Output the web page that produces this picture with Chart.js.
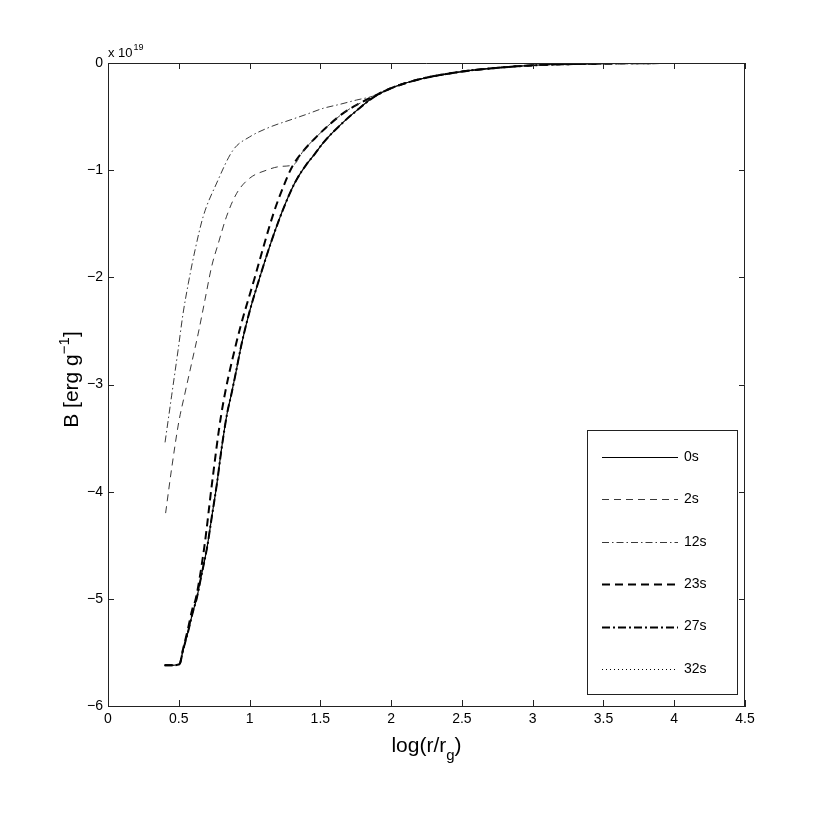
<!DOCTYPE html>
<html>
<head>
<meta charset="utf-8">
<script src="https://cdn.jsdelivr.net/npm/chart.js@4"></script>
<style>
html,body{margin:0;padding:0;background:#fff;}
#wrap{width:830px;height:832px;position:relative;}
</style>
</head>
<body>
<div id="wrap"><canvas id="c" width="830" height="832"></canvas></div>
<script>
// ---------- data ----------
const seriesLabels = ['0s', '2s', '12s', '23s', '27s', '32s'];
const xTickValues = [0, 0.5, 1, 1.5, 2, 2.5, 3, 3.5, 4, 4.5];
const yTickValues = [-6, -5, -4, -3, -2, -1, 0];
const yExponentLabel = '19';

// 0s
const x0 = [0.40,0.45,0.505,0.53,0.567,0.60,0.626,0.66,0.70,0.735,0.77,0.80,0.84,0.87,0.90,0.944,1.00,1.07,1.14,1.215,1.29,1.34,1.40,1.46,1.52,1.64,1.76,1.87,1.99,2.20,2.50,2.75,3.00,3.25,3.50,3.75,4.05];
const b0 = [-5.62,-5.62,-5.61,-5.48,-5.30,-5.12,-5.00,-4.78,-4.52,-4.22,-3.92,-3.62,-3.28,-3.10,-2.91,-2.62,-2.32,-2.01,-1.72,-1.44,-1.20,-1.07,-0.95,-0.85,-0.745,-0.58,-0.44,-0.325,-0.24,-0.152,-0.08,-0.045,-0.022,-0.011,-0.005,-0.002,0];
// 2s
const x2 = [0.407,0.45,0.50,0.544,0.591,0.638,0.685,0.732,0.78,0.838,0.909,1.00,1.12,1.22,1.31,1.38,1.474,1.568,1.66,1.757,1.87,1.99,2.20,2.50,2.75,3.00,3.25,3.50,3.75,4.05];
const b2 = [-4.20,-3.78,-3.35,-3.08,-2.80,-2.52,-2.21,-1.90,-1.68,-1.43,-1.216,-1.076,-1.00,-0.965,-0.95,-0.82,-0.687,-0.57,-0.47,-0.39,-0.325,-0.24,-0.152,-0.08,-0.045,-0.022,-0.011,-0.005,-0.002,0];
// 12s
const x12 = [0.403,0.45,0.495,0.53,0.567,0.615,0.673,0.768,0.885,1.00,1.14,1.286,1.40,1.52,1.64,1.757,1.87,1.99,2.20,2.50,2.75,3.00,3.25,3.50,3.75,4.05];
const b12 = [-3.54,-3.10,-2.68,-2.34,-2.06,-1.745,-1.43,-1.12,-0.81,-0.69,-0.60,-0.532,-0.48,-0.423,-0.385,-0.345,-0.31,-0.24,-0.152,-0.08,-0.045,-0.022,-0.011,-0.005,-0.002,0];
// 23s
const x23 = [0.40,0.45,0.505,0.53,0.565,0.595,0.62,0.68,0.735,0.80,0.905,1.035,1.17,1.24,1.30,1.38,1.474,1.568,1.66,1.757,1.87,1.99,2.20,2.50,2.75,3.00,3.25,3.50,3.75,4.05];
const b23 = [-5.62,-5.62,-5.61,-5.47,-5.28,-5.10,-5.00,-4.52,-3.92,-3.28,-2.62,-2.01,-1.40,-1.15,-0.97,-0.82,-0.687,-0.57,-0.47,-0.39,-0.315,-0.24,-0.152,-0.08,-0.045,-0.022,-0.011,-0.005,-0.002,0];
// 27s (lies on the 0s curve)
const x27 = [0.40,0.45,0.505,0.53,0.567,0.60,0.626,0.66,0.70,0.735,0.77,0.80,0.84,0.87,0.90,0.944,1.00,1.07,1.14,1.215,1.29,1.34,1.40,1.46,1.52,1.64,1.76,1.87,1.99,2.20,2.50,2.75,3.00,3.25,3.50,3.75,4.05];
const b27 = [-5.62,-5.62,-5.61,-5.48,-5.30,-5.12,-5.00,-4.78,-4.52,-4.22,-3.92,-3.62,-3.28,-3.10,-2.91,-2.62,-2.32,-2.01,-1.72,-1.44,-1.20,-1.07,-0.95,-0.85,-0.745,-0.58,-0.44,-0.325,-0.24,-0.152,-0.08,-0.045,-0.022,-0.011,-0.005,-0.002,0];
// 32s (lies on the 0s curve)
const x32 = [0.40,0.45,0.505,0.53,0.567,0.60,0.626,0.66,0.70,0.735,0.77,0.80,0.84,0.87,0.90,0.944,1.00,1.07,1.14,1.215,1.29,1.34,1.40,1.46,1.52,1.64,1.76,1.87,1.99,2.20,2.50,2.75,3.00,3.25,3.50,3.75,4.05];
const b32 = [-5.62,-5.62,-5.61,-5.48,-5.30,-5.12,-5.00,-4.78,-4.52,-4.22,-3.92,-3.62,-3.28,-3.10,-2.91,-2.62,-2.32,-2.01,-1.72,-1.44,-1.20,-1.07,-0.95,-0.85,-0.745,-0.58,-0.44,-0.325,-0.24,-0.152,-0.08,-0.045,-0.022,-0.011,-0.005,-0.002,0];

// ---------- styles ----------
const FONT = '"Liberation Sans", Arial, Helvetica, sans-serif';
const styles = [
  {dash: [], width: 1.2, color: '#000'},
  {dash: [7, 5], width: 0.9, color: '#222'},
  {dash: [7, 3, 1.5, 3], width: 0.9, color: '#222'},
  {dash: [8, 5], width: 2, color: '#000'},
  {dash: [8, 3, 2, 3], width: 2, color: '#000'},
  {dash: [1, 3], width: 1, color: '#000'}
];
const xsAll = [x0, x2, x12, x23, x27, x32];
const bsAll = [b0, b2, b12, b23, b27, b32];

const datasets = seriesLabels.map((lab, i) => ({
  label: lab,
  data: xsAll[i].map((xv, j) => ({x: xv, y: bsAll[i][j]})),
  borderColor: styles[i].color,
  borderWidth: styles[i].width,
  borderDash: styles[i].dash,
  pointRadius: 0,
  fill: false,
  cubicInterpolationMode: 'monotone'
}));

const decor = {
  id: 'decor',
  afterDraw(chart) {
    const {ctx, chartArea: a, scales} = chart;
    const sx = scales.x, sy = scales.y;
    ctx.save();
    ctx.strokeStyle = '#222';
    ctx.lineWidth = 1;
    ctx.setLineDash([]);
    // frame top & right
    ctx.beginPath();
    ctx.moveTo(a.left, a.top + 0.5);
    ctx.lineTo(a.right - 0.5, a.top + 0.5);
    ctx.lineTo(a.right - 0.5, a.bottom);
    ctx.stroke();
    // inward ticks
    const TL = 6;
    ctx.beginPath();
    sx.ticks.forEach(t => {
      const px = Math.round(sx.getPixelForValue(t.value)) + 0.5;
      ctx.moveTo(px, a.bottom); ctx.lineTo(px, a.bottom - TL);
      ctx.moveTo(px, a.top); ctx.lineTo(px, a.top + TL);
    });
    sy.ticks.forEach(t => {
      const py = Math.round(sy.getPixelForValue(t.value)) + 0.5;
      ctx.moveTo(a.left, py); ctx.lineTo(a.left + TL, py);
      ctx.moveTo(a.right, py); ctx.lineTo(a.right - TL, py);
    });
    ctx.stroke();

    ctx.fillStyle = '#000';
    ctx.textBaseline = 'alphabetic';
    // exponent label
    ctx.textAlign = 'left';
    ctx.font = '13px ' + FONT;
    ctx.fillText('x 10', a.left, a.top - 6);
    const w10 = ctx.measureText('x 10').width;
    ctx.font = '9px ' + FONT;
    ctx.fillText(yExponentLabel, a.left + w10 + 1, a.top - 13);

    // x title log(r/r_g)
    const cx = (a.left + a.right) / 2;
    const by = 752;
    ctx.font = '21px ' + FONT;
    const p1 = 'log(r/r', p3 = ')';
    const w1 = ctx.measureText(p1).width, w3 = ctx.measureText(p3).width;
    ctx.font = '15px ' + FONT;
    const w2 = ctx.measureText('g').width;
    let sxp = cx - (w1 + w2 + w3) / 2;
    ctx.font = '21px ' + FONT;
    ctx.fillText(p1, sxp, by);
    ctx.font = '15px ' + FONT;
    ctx.fillText('g', sxp + w1, by + 8);
    ctx.font = '21px ' + FONT;
    ctx.fillText(p3, sxp + w1 + w2, by);

    // y title B [erg g^-1]
    ctx.save();
    ctx.translate(78, (a.top + a.bottom) / 2 - 5);
    ctx.rotate(-Math.PI / 2);
    ctx.font = '21px ' + FONT;
    const q1 = 'B [erg g', q3 = ']';
    const v1 = ctx.measureText(q1).width, v3 = ctx.measureText(q3).width;
    ctx.font = '15px ' + FONT;
    const v2 = ctx.measureText('\u22121').width;
    let tx = -(v1 + v2 + v3) / 2;
    ctx.font = '21px ' + FONT;
    ctx.fillText(q1, tx, 0);
    ctx.font = '15px ' + FONT;
    ctx.fillText('\u22121', tx + v1, -9);
    ctx.font = '21px ' + FONT;
    ctx.fillText(q3, tx + v1 + v2, 0);
    ctx.restore();

    // legend box
    const L = {x: 587, y: 430, w: 150, h: 264};
    ctx.fillStyle = '#fff';
    ctx.fillRect(L.x, L.y, L.w, L.h);
    ctx.strokeStyle = '#222';
    ctx.lineWidth = 1;
    ctx.strokeRect(L.x + 0.5, L.y + 0.5, L.w, L.h);
    ctx.font = '14px ' + FONT;
    ctx.textBaseline = 'middle';
    ctx.textAlign = 'left';
    chart.data.datasets.forEach((ds, i) => {
      const ey = L.y + 27 + i * 42.4;
      ctx.save();
      ctx.strokeStyle = ds.borderColor;
      ctx.lineWidth = ds.borderWidth;
      ctx.setLineDash(ds.borderDash);
      ctx.beginPath();
      ctx.moveTo(602, Math.round(ey) + 0.5);
      ctx.lineTo(678, Math.round(ey) + 0.5);
      ctx.stroke();
      ctx.restore();
      ctx.fillStyle = '#000';
      ctx.fillText(ds.label, 684, ey);
    });
    ctx.restore();
  }
};

new Chart(document.getElementById('c'), {
  type: 'line',
  data: {datasets},
  options: {
    responsive: false,
    animation: false,
    events: [],
    layout: {padding: {left: 68, right: 85, top: 63, bottom: 86}},
    plugins: {legend: {display: false}, tooltip: {enabled: false}},
    scales: {
      x: {
        type: 'linear',
        min: 0, max: 4.5,
        afterBuildTicks: s => { s.ticks = xTickValues.map(v => ({value: v})); },
        afterFit: s => { s.height = 40; },
        grid: {display: false, drawTicks: false},
        border: {display: true, color: '#222', width: 1},
        ticks: {
          padding: 5, color: '#000', font: {family: FONT, size: 14},
          maxRotation: 0, autoSkip: false,
          callback: v => String(v)
        }
      },
      y: {
        type: 'linear',
        min: -6, max: 0,
        afterBuildTicks: s => { s.ticks = yTickValues.map(v => ({value: v})); },
        afterFit: s => { s.width = 40; },
        grid: {display: false, drawTicks: false},
        border: {display: true, color: '#222', width: 1},
        ticks: {
          padding: 5, color: '#000', font: {family: FONT, size: 14},
          autoSkip: false,
          callback: v => (v === 0 ? '0' : '\u2212' + Math.abs(v))
        }
      }
    }
  },
  plugins: [decor]
});
</script>
</body>
</html>
